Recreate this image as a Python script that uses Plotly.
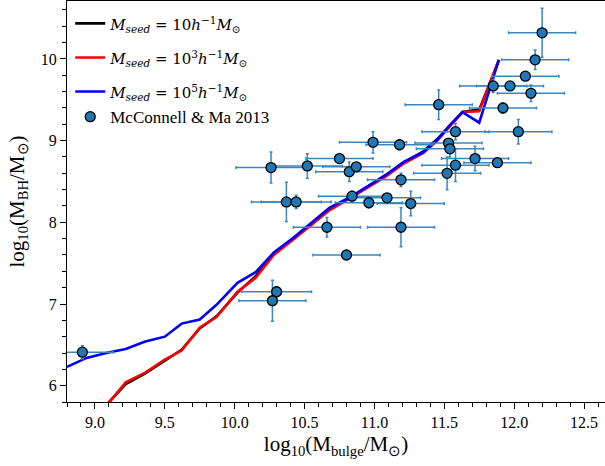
import plotly.graph_objects as go

# Model curves (common bulge-mass grid)
bulge_bins = [8.80, 8.94, 9.08, 9.22, 9.36, 9.50, 9.62, 9.75, 9.87, 10.02, 10.15, 10.28,
              10.42, 10.56, 10.68, 10.83, 10.97, 11.08, 11.21, 11.35, 11.45, 11.54,
              11.63, 11.75, 11.89]
bh_seed1 = [None, None, 5.76, 6.02, 6.15, 6.31, 6.44, 6.70, 6.85, 7.14, 7.34, 7.62, 7.80,
            7.99, 8.16, 8.31, 8.45, 8.57, 8.73, 8.87, 9.02, 9.18, 9.35, 9.38, 9.98]
bh_seed3 = [None, None, 5.75, 6.04, 6.16, 6.32, 6.43, 6.71, 6.84, 7.15, 7.32, 7.60, 7.79,
            7.99, 8.15, 8.30, 8.44, 8.56, 8.72, 8.85, 9.00, 9.18, 9.35, 9.36, 9.99]
bh_seed5 = [6.23, 6.34, 6.40, 6.45, 6.54, 6.60, 6.76, 6.81, 6.99, 7.26, 7.39, 7.63, 7.81,
            8.01, 8.18, 8.31, 8.46, 8.58, 8.74, 8.86, 9.01, 9.19, 9.35, 9.22, 9.99]

# McConnell & Ma 2013 observations
obs_bulge = [8.91, 10.26, 10.52, 10.75, 10.82, 10.87, 10.99, 11.18, 11.19, 10.37, 10.44,
             10.84, 10.96, 11.09, 11.26, 10.66, 11.19, 10.80, 10.30, 10.27, 11.46, 11.92,
             12.12, 11.58, 12.03, 11.53, 11.54, 11.72, 11.88, 11.58, 11.52, 12.20, 12.15,
             12.08, 11.85, 11.97]
obs_bh = [6.41, 8.67, 8.69, 8.78, 8.62, 8.68, 8.98, 8.95, 8.52, 8.25, 8.25,
          8.32, 8.24, 8.30, 8.23, 7.94, 7.94, 7.60, 7.15, 7.04, 9.44, 9.40,
          9.58, 9.11, 9.11, 8.97, 8.90, 8.78, 8.73, 8.70, 8.60, 10.32, 9.99,
          9.79, 9.67, 9.67]
obs_bulge_err = [0.22, 0.25, 0.25, 0.24, 0.24, 0.24, 0.24, 0.24, 0.24, 0.25, 0.25,
                 0.24, 0.24, 0.24, 0.24, 0.24, 0.24, 0.24, 0.25, 0.24, 0.24, 0.24,
                 0.24, 0.24, 0.24, 0.24, 0.24, 0.24, 0.24, 0.24, 0.24, 0.24, 0.24,
                 0.24, 0.24, 0.24]
obs_bh_err = [0.08, 0.19, 0.15, 0.05, 0.12, 0.05, 0.13, 0.06, 0.08, 0.24, 0.08,
              0.06, 0.06, 0.03, 0.15, 0.12, 0.24, 0.03, 0.06, 0.25, 0.18, 0.06,
              0.10, 0.10, 0.15, 0.05, 0.10, 0.15, 0.05, 0.20, 0.20, 0.30, 0.12,
              0.05, 0.08, 0.05]

SERIF = "Liberation Serif"
MATHFONT = "DejaVu Serif"
fig = go.Figure()


def seed_label(exp):
    p = "" if exp is None else f"<sup>{exp}</sup>"
    return (f"<span style='font-family:{MATHFONT};font-size:15px'>"
            f"<i>M</i><sub><i>seed</i></sub> = 10{p}<i>h</i><sup>−1</sup><i>M</i><sub>⊙</sub>"
            f"</span>")


for ys, col, lab, g in [(bh_seed1, "black", seed_label(None), "a"),
                        (bh_seed3, "#ff0000", seed_label(3), "b"),
                        (bh_seed5, "#0000ff", seed_label(5), "c")]:
    fig.add_trace(go.Scatter(x=bulge_bins, y=ys, mode="lines", name=lab,
                             line=dict(color=col, width=2.6), legendgroup=g))

fig.add_trace(go.Scatter(
    x=obs_bulge, y=obs_bh, mode="markers", name="McConnell & Ma 2013", legendgroup="c",
    marker=dict(size=10, color="#1f77b4", line=dict(color="black", width=1.3)),
    error_x=dict(type="data", array=obs_bulge_err, color="#3a88c0", thickness=1.5, width=1.5),
    error_y=dict(type="data", array=obs_bh_err, color="#3a88c0", thickness=1.5, width=1.5),
))

axis_common = dict(showline=True, linecolor="black", linewidth=1.2, ticks="outside",
                   ticklen=6, tickwidth=1.2, tickcolor="black", showgrid=False,
                   zeroline=False, tickfont=dict(family=SERIF, size=16, color="black"))

fig.update_layout(
    width=605, height=466,
    margin=dict(l=67, r=0, t=1, b=64),
    paper_bgcolor="white", plot_bgcolor="white",
    showlegend=True,
    legend=dict(x=0.006, y=0.988, xanchor="left", yanchor="top",
                font=dict(family=SERIF, size=17, color="black"),
                bgcolor="rgba(255,255,255,0)", tracegroupgap=9),
    xaxis=dict(range=[8.8, 12.65], dtick=0.5, tick0=9.0, tickformat=".1f", mirror=True,
               minor=dict(dtick=0.1, ticks="outside", ticklen=3.5, tickcolor="black"),
               title=dict(text="log<sub>10</sub>(M<sub>bulge</sub>/M<sub>⊙</sub>)",
                          font=dict(family=SERIF, size=21, color="black"), standoff=6),
               **axis_common),
    yaxis=dict(range=[5.8, 10.71], dtick=1, tick0=6,
               minor=dict(dtick=0.2, ticks="outside", ticklen=3.5, tickcolor="black"),
               title=dict(text="log<sub>10</sub>(M<sub>BH</sub>/M<sub>⊙</sub>)",
                          font=dict(family=SERIF, size=21, color="black"), standoff=10),
               **axis_common),
)

fig.write_html("out.html")
